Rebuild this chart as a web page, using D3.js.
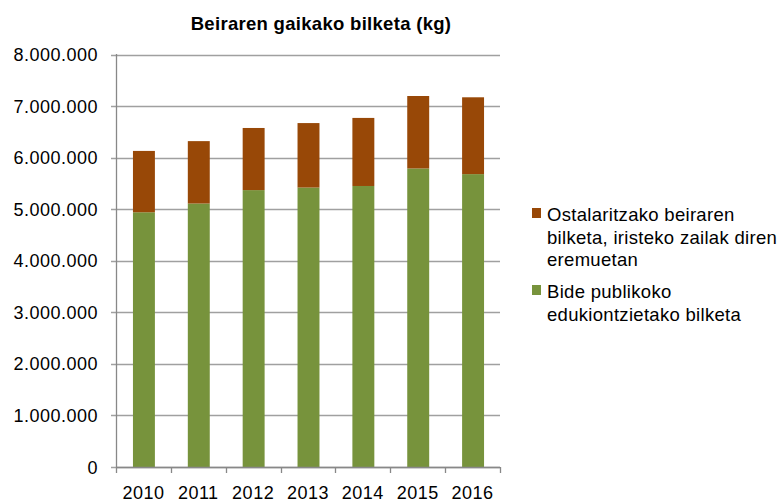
<!DOCTYPE html>
<html>
<head>
<meta charset="utf-8">
<script src="https://cdn.jsdelivr.net/npm/d3@7"></script>
<style>
  body { margin: 0; background: #fff; }
  svg { font-family: "Liberation Sans", Arial, sans-serif; }
</style>
</head>
<body>
<div class="chart"></div>
<script>
var years = ["2010", "2011", "2012", "2013", "2014", "2015", "2016"];
var publiko = [4940000, 5110000, 5370000, 5420000, 5450000, 5790000, 5680000];
var ostalaritza = [1190000, 1210000, 1205000, 1250000, 1320000, 1405000, 1490000];
var seriesNames = ["Bide publikoko edukiontzietako bilketa", "Ostalaritzako beiraren bilketa, iristeko zailak diren eremuetan"];
var seriesColors = ["#77933c", "#984807"];
var yTicks = [0, 1000000, 2000000, 3000000, 4000000, 5000000, 6000000, 7000000, 8000000];

document.addEventListener("DOMContentLoaded", draw)

function draw() {
  var width = 781,
    height = 501;

  var svg = d3.select(".chart").append("svg")
    .attr("width", width)
    .attr("height", height)

  var x = d3.scaleBand()
    .domain(years)
    .range([116, 500])

  var y = d3.scaleLinear()
    .domain([0, 8000000])
    .range([467, 54.5])

  var fmt = function(d) {
    return d3.format(",")(d).replace(/,/g, ".")
  }

  // gridlines
  svg.append("g")
    .selectAll("line")
    .data(yTicks)
    .enter().append("line")
    .attr("x1", 111)
    .attr("x2", 500)
    .attr("y1", d => Math.round(y(d)) + 0.5)
    .attr("y2", d => Math.round(y(d)) + 0.5)
    .attr("stroke", "#a0a0a0")
    .attr("stroke-width", 1.3)

  // y labels
  svg.append("g")
    .selectAll("text")
    .data(yTicks)
    .enter().append("text")
    .attr("x", 98)
    .attr("y", d => y(d) + 6.5)
    .attr("text-anchor", "end")
    .attr("font-size", 18)
    .attr("letter-spacing", 0.5)
    .attr("fill", "#000")
    .text(fmt)

  // stacked bars
  var table = years.map((yr, i) => ({year: yr, publiko: publiko[i], ostalaritza: ostalaritza[i]}))
  var stack = d3.stack().keys(["publiko", "ostalaritza"])(table)

  var bw = x.bandwidth() * 0.4

  svg.append("g")
    .selectAll("g")
    .data(stack)
    .enter().append("g")
    .attr("fill", (d, i) => seriesColors[i])
    .selectAll("rect")
    .data(d => d)
    .enter().append("rect")
    .attr("x", d => x(d.data.year) + (x.bandwidth() - bw) / 2 + 0.5)
    .attr("width", bw)
    .attr("y", d => y(d[1]))
    .attr("height", d => y(d[0]) - y(d[1]))

  // axes lines
  svg.append("line")
    .attr("x1", 116.5).attr("x2", 116.5)
    .attr("y1", 54).attr("y2", 467)
    .attr("stroke", "#888").attr("stroke-width", 1.3)

  svg.append("line")
    .attr("x1", 116).attr("x2", 500)
    .attr("y1", 467.5).attr("y2", 467.5)
    .attr("stroke", "#888").attr("stroke-width", 1.3)

  var bounds = years.map(d => x(d)).concat([x.range()[1]])
  svg.append("g")
    .selectAll("line")
    .data(bounds)
    .enter().append("line")
    .attr("x1", d => Math.round(d) + 0.5)
    .attr("x2", d => Math.round(d) + 0.5)
    .attr("y1", 467)
    .attr("y2", 473)
    .attr("stroke", "#888").attr("stroke-width", 1.3)

  // x labels
  svg.append("g")
    .selectAll("text")
    .data(years)
    .enter().append("text")
    .attr("x", d => x(d) + x.bandwidth() / 2)
    .attr("y", 498.5)
    .attr("text-anchor", "middle")
    .attr("font-size", 18)
    .attr("letter-spacing", 0.5)
    .text(d => d)

  // title
  svg.append("text")
    .attr("x", 321)
    .attr("y", 30)
    .attr("text-anchor", "middle")
    .attr("font-size", 18.5)
    .attr("font-weight", "bold")
    .attr("letter-spacing", 0.3)
    .text("Beiraren gaikako bilketa (kg)")

  // legend
  var legend = [
    {color: seriesColors[1], lines: ["Ostalaritzako beiraren", "bilketa, iristeko zailak diren", "eremuetan"], y: 221},
    {color: seriesColors[0], lines: ["Bide publikoko", "edukiontzietako bilketa"], y: 298}
  ]

  var lg = svg.append("g")
    .selectAll("g")
    .data(legend)
    .enter().append("g")

  lg.append("rect")
    .attr("x", 532)
    .attr("y", d => d.y - 13)
    .attr("width", 9)
    .attr("height", 10)
    .attr("fill", d => d.color)

  lg.append("text")
    .attr("font-size", 18.5)
    .attr("letter-spacing", 0.3)
    .selectAll("tspan")
    .data(d => d.lines.map((t, i) => ({t: t, y: d.y + i * 22.5})))
    .enter().append("tspan")
    .attr("x", 547)
    .attr("y", d => d.y)
    .text(d => d.t)
}
</script>
</body>
</html>
